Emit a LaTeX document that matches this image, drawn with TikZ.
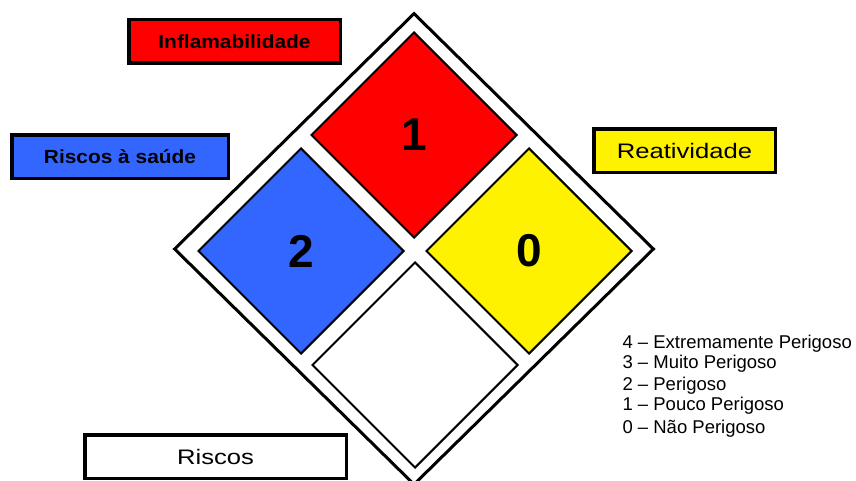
\documentclass[tikz,border=0pt]{standalone}
\usepackage{fontspec}
\setmainfont{Liberation Sans}
\newfontfamily\widesf[FakeStretch=1.22]{Liberation Sans}
\newfontfamily\boldsf[FakeStretch=1.1]{Liberation Sans}
\usetikzlibrary{shapes.geometric}
\definecolor{saude}{RGB}{51,102,255}
\tikzset{
  quad/.style={diamond, draw, line width=2pt, minimum width=206pt, minimum height=206pt,
    inner sep=0pt, font=\fontsize{46}{46}\selectfont\bfseries},
  tagbox/.style={draw, line width=3.5pt, inner sep=0pt, minimum height=43.5pt,
    font=\boldsf\fontsize{19}{22}\selectfont\bfseries},
  tagtext/.style={font=\widesf\fontsize{21}{24}\selectfont},
}

\begin{document}
\begin{tikzpicture}[x=1pt, y=-1pt]
\useasboundingbox (0,0) rectangle (856,481);
% losango externo
\node[diamond, draw, line width=3pt, minimum width=480pt, minimum height=472pt, inner sep=0pt] (frame) at (414,249) {};
% quadrantes
\node[quad, fill=red] (flam) at (414,135) {1};
\node[quad, fill=saude] (saude) at (301,251) {2};
\node[quad, fill=yellow] (reat) at (529,251) {0};
\node[quad, fill=white] (esp) at (415,365) {};
% legendas
\node[tagbox, fill=red, minimum width=211.5pt] (tflam) at (234.5,41.5) {Inflamabilidade};
\node[tagbox, fill=saude, minimum width=216.5pt] (tsaude) at (120,157) {Riscos à saúde};
\node[tagbox, tagtext, fill=yellow, minimum width=181.5pt] (treat) at (684.5,151) {Reatividade};
\node[tagbox, tagtext, fill=white, minimum width=261.5pt] (tesp) at (215.5,456.5) {Riscos};
% escala
\foreach \lvl/\txt/\yy in {4/Extremamente Perigoso/348, 3/Muito Perigoso/368,
    2/Perigoso/390, 1/Pouco Perigoso/410, 0/Não Perigoso/433}
  \node[anchor=base west, font=\fontsize{18.5}{20}\selectfont] (nivel\lvl) at (619,\yy) {\lvl\ -- \txt};
\end{tikzpicture}
\end{document}
